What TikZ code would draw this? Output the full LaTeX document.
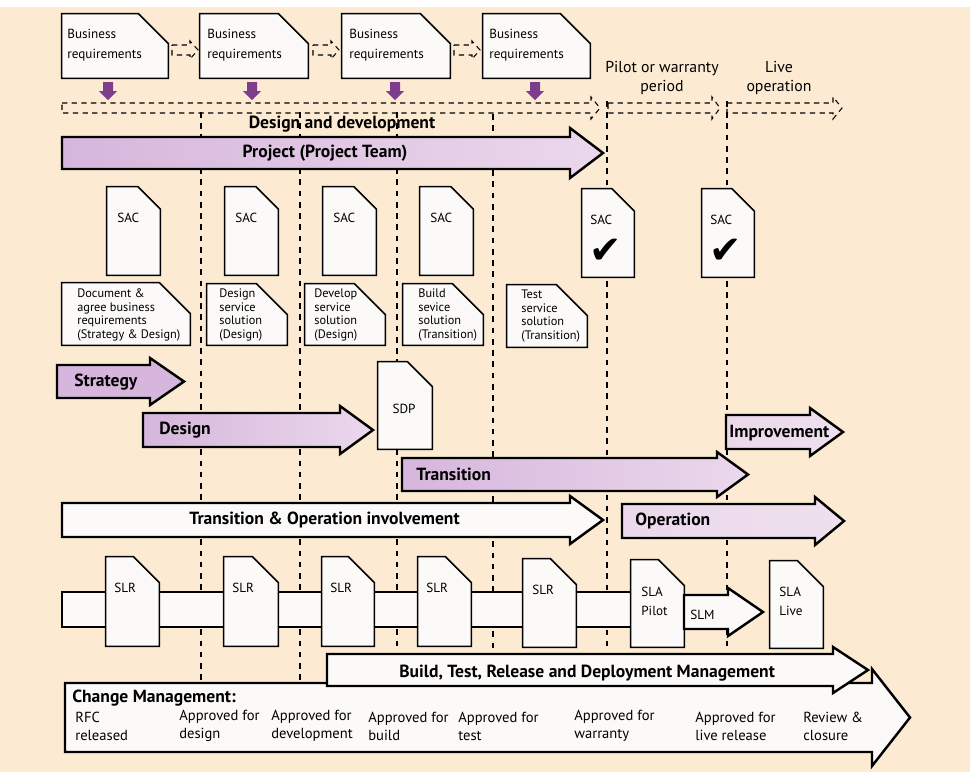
\documentclass[tikz,border=0pt]{standalone}
\usepackage{fontspec}
\setmainfont{PT Sans}
\newfontfamily\checkfont{DejaVu Sans}
\usetikzlibrary{positioning,fit}

\definecolor{cream}{HTML}{FCEBD2}
\definecolor{lilac}{HTML}{D6B6DC}
\definecolor{lilaclight}{HTML}{EBD8EC}
\definecolor{lilacpale}{HTML}{EEE0EE}
\definecolor{plum}{HTML}{7D3C8C}
\definecolor{paperwhite}{HTML}{FBFAF9}

% sheet of paper with a folded corner: name, corner, corner, cut
\newcommand{\sheet}[4]{%
  \node[sheetbox, fit={#2 #3}] (#1) {};
  \draw[sheetline] (#1.north west) -- ([xshift=-#4]#1.north east)
    -- ([yshift=-#4]#1.north east) -- (#1.south east) -- (#1.south west) -- cycle;}

% block arrow: [style] tail, head base, tip, shaft top, shaft bottom, overhang
\newcommand{\barrow}[7][]{%
  \draw[#1] (#2,#5) -- (#3,#5) -- (#3,#5-#7) -- (#4,{(#5+#6)/2})
    -- (#3,#6+#7) -- (#3,#6) -- (#2,#6) -- cycle;}

\begin{document}
\begin{tikzpicture}[x=0.02cm,y=-0.02cm,
  sheetbox/.style={inner sep=0pt},
  sheetline/.style={draw=black,line width=0.9pt,fill=paperwhite},
  divider/.style={line width=1.4pt,dash pattern=on 3.2pt off 3.2pt},
  ghost/.style={draw=black,line width=0.6pt,dash pattern=on 3pt off 2.5pt},
  phase/.style={draw=black,line width=1.4pt,left color=lilac,right color=lilaclight},
  softphase/.style={draw=black,line width=1.4pt,left color=lilaclight,right color=lilacpale},
  plain/.style={draw=black,line width=1.4pt,fill=paperwhite},
  heading/.style={font=\bfseries\fontsize{10}{12}\selectfont,inner sep=0pt},
  brtext/.style={font=\fontsize{7.5}{11.3}\selectfont,align=left,inner sep=0pt},
  period/.style={font=\fontsize{9}{11}\selectfont,align=center,inner sep=0pt},
  tag/.style={font=\fontsize{7.5}{10.8}\selectfont,align=left,inner sep=0pt},
  task/.style={font=\fontsize{7}{7.8}\selectfont,align=left,inner sep=0pt},
  cmtext/.style={font=\fontsize{8.3}{10.2}\selectfont,align=left,inner sep=0pt}]

\useasboundingbox (0,0) rectangle (970,772);
\fill[white] (0,0) rectangle (970,7);
\fill[cream] (0,7) rectangle (970,772);

% phase dividers
\foreach \x/\ya/\yb in {201/112/680,300/112/680,397/112/650,493/114/650,607/101/650,727/101/650}
  \draw[divider] (\x,\ya) -- (\x,\yb);

% periods
\barrow[ghost]{62}{591}{600}{103}{113}{6}
\barrow[ghost]{608}{712}{720}{103}{113}{6}
\barrow[ghost]{727}{833}{842}{103}{113}{6}
\node[heading] (dd) at (342,124) {Design and development};
\node[period] (pilot) at (662,78) {Pilot or warranty\\period};
\node[period] (live) at (779,78) {Live\\operation};

% business requirements
\sheet{br1}{(62,14)}{(168,78)}{0.6cm}
\sheet{br2}{(200,14)}{(308,78)}{0.6cm}
\sheet{br3}{(342,14)}{(450,78)}{0.6cm}
\sheet{br4}{(483,14)}{(590,78)}{0.6cm}
\node[brtext,anchor=west] (br1t) at (67,45) {Business\\requirements};
\node[brtext,anchor=west] (br2t) at (207,45) {Business\\requirements};
\node[brtext,anchor=west] (br3t) at (349,45) {Business\\requirements};
\node[brtext,anchor=west] (br4t) at (489,45) {Business\\requirements};
\barrow[ghost]{172}{190}{198}{45}{55}{4}
\barrow[ghost]{313}{331}{339}{45}{55}{4}
\barrow[ghost]{454}{472}{480}{45}{55}{4}
\foreach \x in {108,252,395,535}
  \fill[plum] (\x-5,82) -- (\x+5,82) -- (\x+5,91) -- (\x+9,91) -- (\x,100)
    -- (\x-9,91) -- (\x-5,91) -- cycle;

\barrow[phase]{62}{570}{603}{137}{169}{9}
\node[heading] (project) at (325,153) {Project (Project Team)};

% acceptance criteria
\sheet{sac1}{(107,187)}{(160,275)}{0.45cm}
\sheet{sac2}{(225,187)}{(278,275)}{0.45cm}
\sheet{sac3}{(323,187)}{(376,275)}{0.45cm}
\sheet{sac4}{(420,187)}{(473,275)}{0.45cm}
\sheet{sac5}{(582,189)}{(634,277)}{0.45cm}
\sheet{sac6}{(702,189)}{(754,277)}{0.45cm}
\foreach \s/\x/\y in {sac1/117/218,sac2/235/218,sac3/333/218,sac4/430/218,sac5/590/220,sac6/710/220}
  \node[tag,anchor=west] (\s t) at (\x,\y) {SAC};
\node[inner sep=0pt] (ok5) at (606,251) {\checkfont\fontsize{22}{22}\selectfont ✔};
\node[inner sep=0pt] (ok6) at (726,251) {\checkfont\fontsize{22}{22}\selectfont ✔};

% activities
\sheet{act1}{(62,283)}{(190,345)}{0.62cm}
\sheet{act2}{(207,284)}{(287,345)}{0.62cm}
\sheet{act3}{(305,284)}{(385,345)}{0.62cm}
\sheet{act4}{(403,284)}{(483,345)}{0.62cm}
\sheet{act5}{(507,285)}{(587,347)}{0.62cm}
\node[task,anchor=west] (act1t) at (77,315) {Document \&\\agree business\\requirements\\(Strategy \& Design)};
\node[task,anchor=west] (act2t) at (219,315) {Design\\service\\solution\\(Design)};
\node[task,anchor=west] (act3t) at (314,315) {Develop\\service\\solution\\(Design)};
\node[task,anchor=west] (act4t) at (418,315) {Build\\sevice\\solution\\(Transition)};
\node[task,anchor=west] (act5t) at (521,316) {Test\\service\\solution\\(Transition)};

% lifecycle stages
\barrow[draw=black,line width=1.4pt,fill=lilac]{57}{150}{184}{365}{398}{7}
\node[heading,anchor=west] (strategy) at (74,382) {Strategy};
\barrow[phase]{143}{340}{373}{413}{447}{7}
\node[heading,anchor=west] (design) at (159,430) {Design};
\sheet{sdp}{(378,362)}{(432,449)}{0.5cm}
\node[tag] (sdpt) at (404,409) {SDP};
\barrow[phase]{402}{717}{748}{458}{491}{6}
\node[heading,anchor=west] (transition) at (416,474) {Transition};
\barrow[softphase]{726}{810}{843}{415}{449}{7}
\node[heading,anchor=west] (improve) at (729,433) {Improvement};
\barrow[plain]{62}{570}{603}{503}{537}{7}
\node[heading,anchor=west] (involve) at (189,520) {Transition \& Operation involvement};
\barrow[softphase]{622}{815}{844}{504}{538}{7}
\node[heading,anchor=west] (operation) at (635,521) {Operation};

% service levels
\fill[paperwhite] (62,592) rectangle (631,627);
\draw[line width=1.1pt] (631,592) -- (62,592) -- (62,627) -- (631,627);
\sheet{slr1}{(106,557)}{(159,646)}{0.52cm}
\sheet{slr2}{(224,557)}{(278,646)}{0.52cm}
\sheet{slr3}{(322,557)}{(374,646)}{0.52cm}
\sheet{slr4}{(418,557)}{(471,646)}{0.52cm}
\sheet{slr5}{(523,559)}{(576,647)}{0.52cm}
\sheet{slap}{(631,560)}{(684,647)}{0.52cm}
\sheet{slal}{(770,561)}{(823,648)}{0.52cm}
\foreach \s/\x/\y in {slr1/114/588,slr2/232/588,slr3/330/588,slr4/426/588,slr5/532/590}
  \node[tag,anchor=west] (\s t) at (\x,\y) {SLR};
\node[tag,anchor=west] (slapt) at (641,601) {SLA\\Pilot};
\node[tag,anchor=west] (slalt) at (779,601) {SLA\\Live};
\barrow[plain]{684}{728}{763}{595}{629}{7}
\node[tag,anchor=west] (slm) at (690,615) {SLM};

% change and release
\barrow[plain]{65}{872}{910}{683}{752}{14}
\barrow[plain]{327}{833}{868}{654}{686}{7}
\node[heading,anchor=west] (btrdm) at (399,673) {Build, Test, Release and Deployment Management};
\node[heading,anchor=west] (change) at (72,698) {Change Management:};
\foreach \n/\x/\t in {c1/75/{RFC\\released},c2/179/{Approved for\\design},c3/271/{Approved for\\development},
    c4/368/{Approved for\\build},c5/458/{Approved for\\test},c6/574/{Approved for\\warranty},
    c7/695/{Approved for\\live release},c8/803/{Review \&\\closure}}
  \node[cmtext,anchor=west] (\n) at (\x,726) {\t};
\end{tikzpicture}
\end{document}
